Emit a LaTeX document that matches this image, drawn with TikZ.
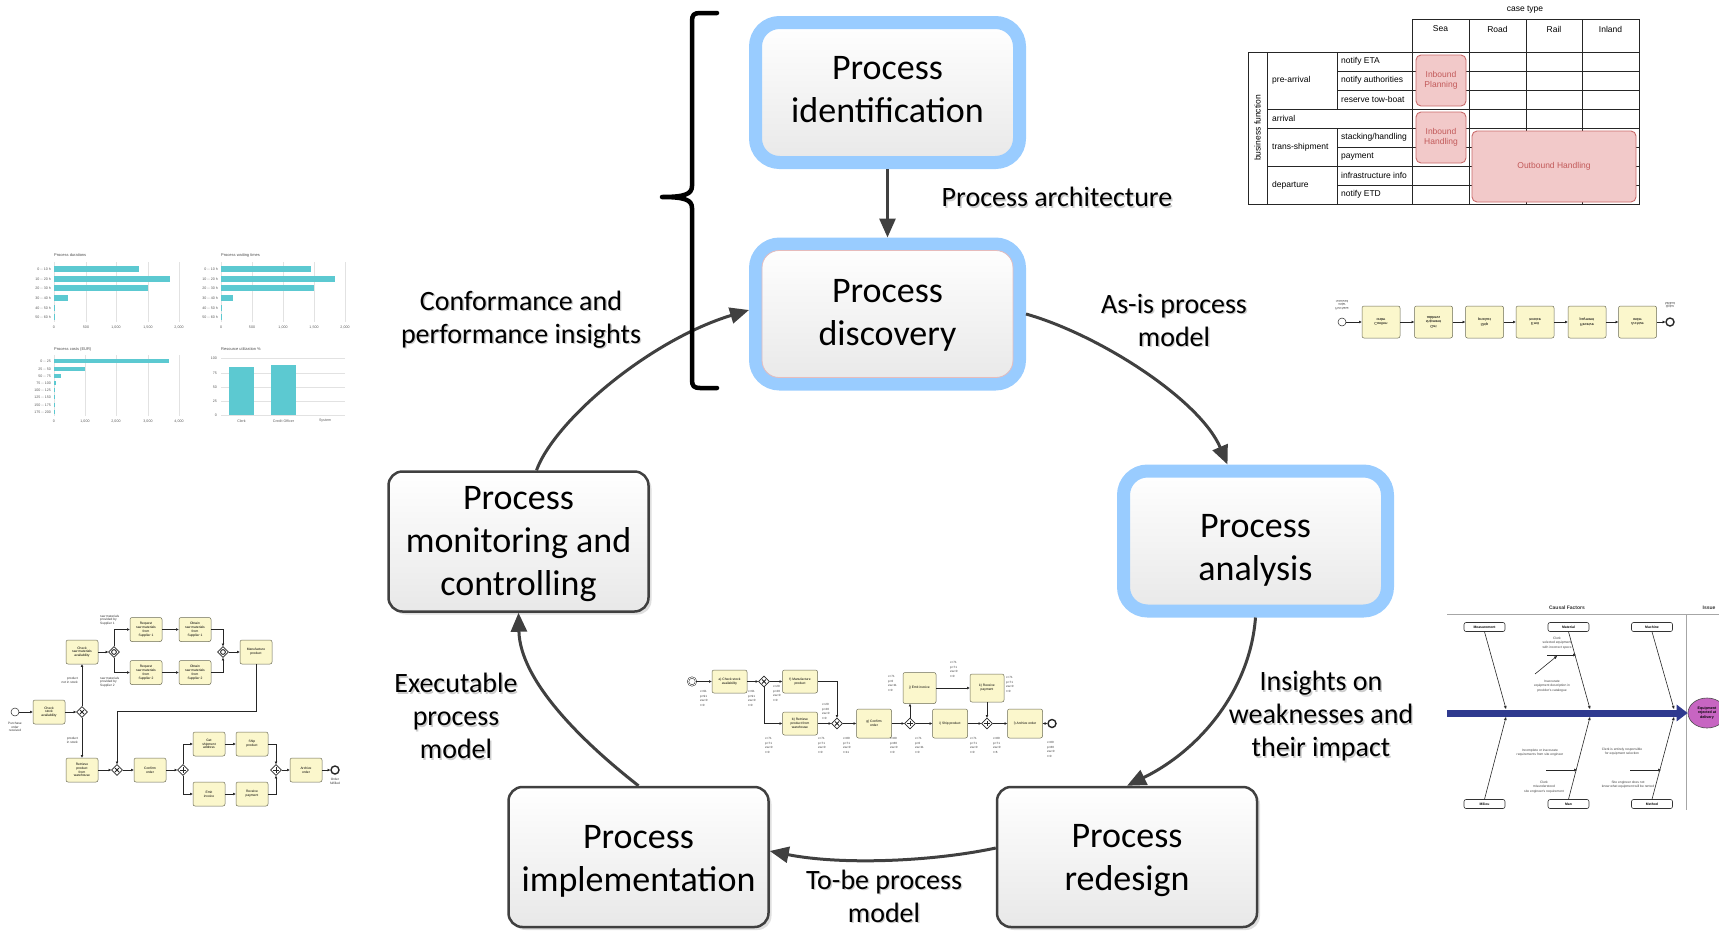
\documentclass[tikz,border=0pt]{standalone}
\usepackage{fontspec}
\setmainfont{Carlito}
\newfontfamily\smallsans{Liberation Sans}
\usetikzlibrary{arrows.meta,shapes.geometric,shadows,calc}

\definecolor{hlblue}{HTML}{99CCFF}
\definecolor{edgegray}{HTML}{404040}
\definecolor{taskfill}{HTML}{FBF7CC}
\definecolor{taskline}{HTML}{6B6B55}
\definecolor{barteal}{HTML}{5CC9D1}
\definecolor{gridgray}{HTML}{E2E2E2}
\definecolor{pinkfill}{HTML}{F2C9C9}
\definecolor{pinkline}{HTML}{C96A6A}
\definecolor{pinktext}{HTML}{C25A5A}
\definecolor{spineblue}{HTML}{2F3A8F}
\definecolor{issuefill}{HTML}{C765C2}

% text with a soft grey shadow behind it
\newcommand\shd[1]{\rlap{\hspace{1.4pt}\raisebox{-1.4pt}{\textcolor{black!20}{#1}}}#1}

\begin{document}
\begin{tikzpicture}[x=1pt,y=-1pt,
  phase/.style={draw=edgegray,line width=2.5pt,rounded corners=14pt,
    top color=white,bottom color=black!9,minimum width=260pt,minimum height=140pt,
    drop shadow={shadow xshift=3pt,shadow yshift=-3pt,opacity=0.25}},
  keyphase/.style={phase,draw=hlblue,line width=13pt,rounded corners=24pt,
    minimum width=264pt,minimum height=140pt},
  phasetext/.style={align=center,font=\fontsize{36}{43}\selectfont,inner sep=0pt},
  cycle/.style={draw=edgegray,line width=3pt,-{Triangle[length=19pt,width=16pt]}},
  note/.style={align=center,font=\fontsize{28}{33}\selectfont,inner sep=0pt},
  tbl/.style={font=\smallsans\fontsize{8.5}{10}\selectfont,inner sep=0pt},
  cluster/.style={draw=pinkline,fill=pinkfill,line width=0.9pt,rounded corners=5pt,
    text=pinktext,align=center,font=\smallsans\fontsize{8.5}{10.5}\selectfont},
  ctitle/.style={font=\smallsans\fontsize{4}{5}\selectfont,text=black!70,anchor=west,inner sep=0pt},
  clab/.style={font=\smallsans\fontsize{3.6}{4.5}\selectfont,text=black!65,inner sep=0pt},
  task/.style={draw=taskline,fill=taskfill,line width=0.5pt,rounded corners=2pt,
    minimum width=32pt,minimum height=24pt,inner sep=0.5pt,align=center,
    font=\smallsans\fontsize{3.3}{3.8}\selectfont},
  mtask/.style={task,minimum width=35pt,minimum height=23pt},
  ltask/.style={task,minimum width=38pt,minimum height=32pt,font=\smallsans\fontsize{3.8}{4.4}\selectfont},
  gw/.style={diamond,draw=black!85,fill=white,line width=0.6pt,minimum width=11pt,
    minimum height=11pt,inner sep=0pt},
  gwx/.style={gw,path picture={\draw[line width=1pt] (path picture bounding box.center)
    ++(-2,-2) -- ++(4,4) ++(-4,0) -- ++(4,-4);}},
  gwp/.style={gw,path picture={\draw[line width=1pt] (path picture bounding box.center)
    ++(-2.6,0) -- ++(5.2,0) ++(-2.6,-2.6) -- ++(0,5.2);}},
  gwo/.style={gw,path picture={\draw[line width=0.9pt] (path picture bounding box.center)
    circle[radius=2.4pt];}},
  startev/.style={circle,draw=black!85,fill=white,line width=0.5pt,minimum size=8pt,inner sep=0pt},
  endev/.style={startev,line width=1.4pt},
  bflow/.style={draw=black!85,line width=0.55pt,-{Triangle[length=2.6pt,width=2.4pt]}},
  tiny/.style={font=\smallsans\fontsize{3.2}{3.7}\selectfont,align=center,inner sep=0pt,text=black!80},
  ann/.style={font=\smallsans\fontsize{3}{4.8}\selectfont,align=left,inner sep=0pt,
    anchor=north west,text=black!80},
  fbox/.style={draw=black!80,fill=white,line width=0.6pt,rounded corners=2pt,
    minimum width=41pt,minimum height=9pt,inner sep=0pt,
    font=\smallsans\bfseries\fontsize{3.4}{4}\selectfont},
  ftxt/.style={font=\smallsans\fontsize{3.3}{4.2}\selectfont,align=center,inner sep=0pt,text=black!75},
  bone/.style={draw=black!85,line width=0.6pt,-{Triangle[length=3pt,width=2.6pt]}},
]
\useasboundingbox (0,0) rectangle (1719,930);

% ---------------- lifecycle phases ----------------
\node[keyphase] (ident) at (887.5,92.5) {};
\node[keyphase] (disc)  at (887.5,314)  {};
\node[keyphase] (ana)   at (1255.5,541) {};
\node[phase]    (red)   at (1127,857)   {};
\node[phase]    (impl)  at (638.5,857)  {};
\node[phase]    (mon)   at (518.5,541.5) {};
\draw[pinkline!45,line width=0.8pt,rounded corners=17pt]
  ($(disc.north west)+(13,13)$) rectangle ($(disc.south east)+(-13,-13)$);
\node[phasetext] (identT) at ($(ident)+(0,-3)$) {Process\\identification};
\node[phasetext] (discT)  at ($(disc)+(0,1)$)   {Process\\discovery};
\node[phasetext] (anaT)   at ($(ana)+(0,9)$)    {Process\\analysis};
\node[phasetext] (redT)   at ($(red)+(0,4)$)    {Process\\redesign};
\node[phasetext] (implT)  at ($(impl)+(0,4)$)   {Process\\implementation};
\node[phasetext] (monT)   at ($(mon)+(0,3)$)    {Process\\monitoring and\\controlling};

% ---------------- lifecycle arrows ----------------
\draw[cycle] (ident) -- (disc);
\draw[cycle] (disc.east) .. controls (1100,335) and (1200,400) .. ($(ana.north)+(-28,0)$);
\draw[cycle] (ana.south) .. controls (1250,690) and (1200,750) .. (red.north);
\draw[cycle] ($(red.west)+(0,-9)$) .. controls (930,862) and (840,865) .. ($(impl.east)+(0,-6)$);
\draw[cycle] (impl.north) .. controls (580,740) and (520,680) .. (mon.south);
\draw[cycle] ($(mon.north)+(18,0)$) .. controls (555,420) and (650,340) .. ($(disc.west)+(0,-4)$);

% ---------------- arrow labels ----------------
\node[note] (lArch) at (1057,198) {\shd{Process architecture}};
\node[note] (lAsis) at (1174,321) {\shd{As-is process}\\\shd{model}};
\node[note] (lIns)  at (1321,717) {\shd{Insights on}\\\shd{weaknesses and}\\\shd{their impact}};
\node[note] (lTobe) at (884,897)  {\shd{To-be process}\\\shd{model}};
\node[note] (lExec) at (456,717)  {\shd{Executable}\\\shd{process}\\\shd{model}};
\node[note] (lConf) at (521,320)  {\shd{Conformance and}\\\shd{performance insights}};

% ---------------- brace around identification and discovery ----------------
\draw[line width=4.5pt,line cap=round,line join=round]
  (717,13) -- (700,13) .. controls (694,13) and (692,15) .. (692,21) -- (692,186)
  .. controls (692,194) and (685,197) .. (662,197)
  .. controls (685,197) and (692,200) .. (692,208) -- (692,380)
  .. controls (692,386) and (694,388) .. (700,388) -- (717,388);

% ---------------- process architecture matrix ----------------
\begin{scope}[black!85,line width=0.8pt]
  \draw (1412,19) rectangle (1639,52);
  \foreach \x in {1469,1526,1582} \draw (\x,19) -- (\x,204);
  \draw (1248,52) rectangle (1639,204);
  \draw (1267,52) -- (1267,204);
  \draw (1337,52) -- (1337,109) (1337,128) -- (1337,204);
  \draw (1412,52) -- (1412,204);
  \foreach \y in {71,90,147,185} \draw (1337,\y) -- (1639,\y);
  \foreach \y in {109,128,166} \draw (1267,\y) -- (1639,\y);
\end{scope}
\node[tbl] (ctype) at (1525,10) {case type};
\node[tbl] (hSea) at (1440.5,29) {Sea};
\node[tbl] (hRoad) at (1497.5,29) {Road};
\node[tbl] (hRail) at (1554,29) {Rail};
\node[tbl] (hInl) at (1610.5,29) {Inland};
\node[tbl,rotate=90] (bfun) at (1257.5,128) {business function};
\node[tbl,anchor=west] (gPre) at (1272,80.5) {pre-arrival};
\node[tbl,anchor=west] (gArr) at (1272,118.5) {arrival};
\node[tbl,anchor=west] (gTra) at (1272,147) {trans-shipment};
\node[tbl,anchor=west] (gDep) at (1272,185) {departure};
\node[tbl,anchor=west] (aEta) at (1341,61.5) {notify ETA};
\node[tbl,anchor=west] (aAut) at (1341,80.5) {notify authorities};
\node[tbl,anchor=west] (aTow) at (1341,99.5) {reserve tow-boat};
\node[tbl,anchor=west] (aSta) at (1341,137.5) {stacking/handling};
\node[tbl,anchor=west] (aPay) at (1341,156.5) {payment};
\node[tbl,anchor=west] (aInf) at (1341,175.5) {infrastructure info};
\node[tbl,anchor=west] (aEtd) at (1341,194.5) {notify ETD};
\node[cluster,minimum width=50pt,minimum height=51pt] (inPlan) at (1441,80.5) {Inbound\\Planning};
\node[cluster,minimum width=50pt,minimum height=51pt] (inHand) at (1441,137.5) {Inbound\\Handling};
\node[cluster,minimum width=164pt,minimum height=71pt] (outHand) at (1554,166.5) {Outbound Handling};

% ---------------- performance charts ----------------
\node[ctitle] (c1t) at (54,255) {Process durations};
\foreach \gx/\lab [count=\i] in {54/0,86/500,116/{1,000},148/{1,500},179/{2,000}} {
  \draw[gridgray,line width=0.5pt] (\gx,262) -- (\gx,322);
  \node[clab] (c1x\i) at (\gx,327) {\lab};
}
\foreach \yy/\len/\lab [count=\i] in {269/139/0 -- 10 h,279/170/10 -- 20 h,288/148/20 -- 30 h,
    298/68/30 -- 40 h,308/55/40 -- 50 h,317/54.5/50 -- 60 h} {
  \fill[barteal] (54,\yy-2.6) rectangle (\len,\yy+2.6);
  \node[clab,anchor=east] (c1y\i) at (51,\yy) {\lab};
}
\node[ctitle] (c2t) at (221,255) {Process waiting times};
\foreach \gx/\lab [count=\i] in {221/0,252/500,283/{1,000},314/{1,500},345/{2,000}} {
  \draw[gridgray,line width=0.5pt] (\gx,262) -- (\gx,322);
  \node[clab] (c2x\i) at (\gx,327) {\lab};
}
\foreach \yy/\len/\lab [count=\i] in {269/311/0 -- 10 h,279/335/10 -- 20 h,288/314/20 -- 30 h,
    298/233/30 -- 40 h,308/222/40 -- 50 h,317/221.5/50 -- 60 h} {
  \fill[barteal] (221,\yy-2.6) rectangle (\len,\yy+2.6);
  \node[clab,anchor=east] (c2y\i) at (218,\yy) {\lab};
}
\node[ctitle] (c3t) at (54,349) {Process costs (EUR)};
\foreach \gx/\lab [count=\i] in {54/0,85/{1,000},116/{2,000},148/{3,000},179/{4,000}} {
  \draw[gridgray,line width=0.5pt] (\gx,355) -- (\gx,416);
  \node[clab] (c3x\i) at (\gx,421) {\lab};
}
\foreach \yy/\len/\lab [count=\i] in {361/169/0 -- 25,369/85/25 -- 50,376/61/50 -- 75,
    383/56/75 -- 100,390/54.5/100 -- 125,397/54.5/125 -- 150,405/54.5/150 -- 175,412/54.5/175 -- 200} {
  \fill[barteal] (54,\yy-2.2) rectangle (\len,\yy+2.2);
  \node[clab,anchor=east] (c3y\i) at (51,\yy) {\lab};
}
\node[ctitle] (c4t) at (221,349) {Resource utilization \%};
\foreach \gy/\lab [count=\i] in {358/100,373/75,387/50,401/25,415/0} {
  \draw[gridgray,line width=0.5pt] (221,\gy) -- (345,\gy);
  \node[clab,anchor=east] (c4y\i) at (217,\gy) {\lab};
}
\fill[barteal] (229,367) rectangle (254,415);
\fill[barteal] (271,365) rectangle (296,415);
\node[clab] (c4a) at (241.5,421) {Clerk};
\node[clab] (c4b) at (283.5,421) {Credit Officer};
\node[clab] (c4c) at (325,421) {System};

% ---------------- order-to-cash model (left) ----------------
\node[startev] (bs) at (15,712) {};
\node[tiny] (bsl) at (15,727) {Purchase\\order\\received};
\node[task] (bt1) at (49,712) {Check\\stock\\availability};
\node[gwx] (bg1) at (82,712) {};
\node[task] (bt2) at (82,652) {Check\\raw materials\\availability};
\node[gwo] (bg2) at (114,652) {};
\node[task] (bt3) at (146,629.5) {Request\\raw materials\\from\\Supplier 1};
\node[task] (bt4) at (195,629.5) {Obtain\\raw materials\\from\\Supplier 1};
\node[task] (bt5) at (146,672.5) {Request\\raw materials\\from\\Supplier 2};
\node[task] (bt6) at (195,672.5) {Obtain\\raw materials\\from\\Supplier 2};
\node[gwo] (bg3) at (223,652) {};
\node[task] (bt7) at (256,652) {Manufacture\\product};
\node[task] (bt8) at (82,770) {Retrieve\\product\\from\\warehouse};
\node[gwx] (bg4) at (117,770) {};
\node[task] (bt9) at (150,770) {Confirm\\order};
\node[gwp] (bg5) at (183,770) {};
\node[task] (bt10) at (209,744) {Get\\shipment\\address};
\node[task] (bt11) at (252,744) {Ship\\product};
\node[task] (bt12) at (209,794) {Emit\\invoice};
\node[task] (bt13) at (252,794) {Receive\\payment};
\node[gwp] (bg6) at (276,770) {};
\node[task] (bt14) at (306,770) {Archive\\order};
\node[endev] (be) at (335,770) {};
\node[tiny] (bel) at (335,781) {Order\\fulfilled};
\node[tiny,align=left,anchor=west] (bl1) at (100,620) {raw materials\\provided by\\Supplier 1};
\node[tiny,align=left,anchor=west] (bl2) at (100,682) {raw materials\\provided by\\Supplier 2};
\node[tiny,align=right,anchor=east] (bl3) at (78,680) {product\\not in stock};
\node[tiny,align=right,anchor=east] (bl4) at (78,740) {product\\in stock};
\coordinate (bk) at (117,711);
\draw[bflow] (bs) -- (bt1);
\draw[bflow] (bt1) -- (bg1);
\draw[bflow] (bg1) -- (bt2);
\draw[bflow] (bg1) -- (bt8);
\draw[bflow] (bt2) -- (bg2);
\draw[bflow] (bg2.north) |- (bt3);
\draw[bflow] (bg2.south) |- (bt5);
\draw[bflow] (bt3) -- (bt4);
\draw[bflow] (bt5) -- (bt6);
\draw[bflow] (bt4) -| (bg3.north);
\draw[bflow] (bt6) -| (bg3.south);
\draw[bflow] (bg3) -- (bt7);
\draw[bflow] (bt7.south) |- (bk) -- (bg4.north);
\draw[bflow] (bt8) -- (bg4);
\draw[bflow] (bg4) -- (bt9);
\draw[bflow] (bt9) -- (bg5);
\draw[bflow] (bg5.north) |- (bt10);
\draw[bflow] (bg5.south) |- (bt12);
\draw[bflow] (bt10) -- (bt11);
\draw[bflow] (bt12) -- (bt13);
\draw[bflow] (bt11) -| (bg6.north);
\draw[bflow] (bt13) -| (bg6.south);
\draw[bflow] (bg6) -- (bt14);
\draw[bflow] (bt14) -- (be);

% ---------------- annotated model (middle) ----------------
\node[startev,double,double distance=0.8pt] (ms) at (692,681.5) {};
\node[mtask] (ma) at (729.5,681.5) {a) Check stock\\availability};
\node[gwx] (mg1) at (764,681.5) {};
\node[mtask] (mf) at (800,681.5) {f) Manufacture\\product};
\node[mtask] (mb) at (800,723.5) {b) Retrieve\\product from\\warehouse};
\node[gwx] (mg2) at (837,723.5) {};
\node[mtask,minimum height=29pt] (mgc) at (874,723.5) {g) Confirm\\order};
\node[gwp] (mg3) at (910,723.5) {};
\node[mtask,minimum height=31pt,minimum width=33pt] (mj) at (919.5,688) {j) Emit invoice};
\node[mtask,minimum height=29pt] (mi) at (950,723.5) {i) Ship product};
\node[mtask,minimum height=28pt,minimum width=34pt] (mk) at (987,688) {k) Receive\\payment};
\node[gwp] (mg4) at (987,723.5) {};
\node[mtask,minimum height=29pt] (ml) at (1025,723.5) {l) Archive order};
\node[endev] (me) at (1052,723.5) {};
\draw[bflow] (ms) -- (ma);
\draw[bflow] (ma) -- (mg1);
\draw[bflow] (mg1) -- (mf);
\draw[bflow] (mg1.south) |- (mb);
\draw[bflow] (mf) -| (mg2);
\draw[bflow] (mb) -- (mg2);
\draw[bflow] (mg2) -- (mgc);
\draw[bflow] (mgc) -- (mg3);
\draw[bflow] (mg3.north) -- (mg3.north |- mj.south);
\draw[bflow] (mg3) -- (mi);
\draw[bflow] (mj) -- (mk);
\draw[bflow] (mk) -- (mg4);
\draw[bflow] (mi) -- (mg4);
\draw[bflow] (mg4) -- (ml);
\draw[bflow] (ml) -- (me);
\foreach \ax/\ay/\at [count=\i] in {
    700/690/{c=91\\p=91\\ew=0\\r=0},
    748/690/{c=91\\p=91\\ew=0\\r=0},
    773/685/{c=20\\p=20\\ew=0\\r=0},
    822/703/{c=20\\p=20\\ew=0\\r=0},
    765/737/{c=71\\p=71\\ew=0\\r=0},
    818/737/{c=71\\p=71\\ew=0\\r=0},
    843/737/{c=80\\p=71\\ew=0\\r=11},
    890/737/{c=80\\p=80\\ew=0\\r=0},
    888/675/{c=71\\p=0\\ew=11\\r=0},
    915/737/{c=71\\p=0\\ew=11\\r=0},
    950/661/{c=71\\p=71\\ew=0\\r=0},
    1006/676/{c=71\\p=71\\ew=0\\r=0},
    970/737/{c=71\\p=71\\ew=0\\r=0},
    993/737/{c=80\\p=71\\ew=0\\r=6},
    1047/741/{c=80\\p=80\\ew=0\\r=0}} {
  \node[ann] (an\i) at (\ax,\ay) {\at};
}

% ---------------- linear model, mirrored (right) ----------------
\begin{scope}[shift={(0,322)},yscale=-1,transform shape]
  \node[startev] (ls) at (1342,0) {};
  \node[ltask] (l1) at (1381,0) {Confirm\\order};
  \node[ltask] (l2) at (1433.5,0) {Get\\shipment\\address};
  \node[ltask] (l3) at (1484.5,0) {Ship\\product};
  \node[ltask] (l4) at (1535,0) {Emit\\invoice};
  \node[ltask] (l5) at (1587,0) {Receive\\payment};
  \node[ltask] (l6) at (1637.5,0) {Archive\\order};
  \node[endev] (le) at (1670,0) {};
  \node[tiny] (lsl) at (1342,17) {Purchase\\order\\received};
  \node[tiny] (lel) at (1670,17) {Order\\fulfilled};
  \draw[bflow] (ls) -- (l1);
  \draw[bflow] (l1) -- (l2);
  \draw[bflow] (l2) -- (l3);
  \draw[bflow] (l3) -- (l4);
  \draw[bflow] (l4) -- (l5);
  \draw[bflow] (l5) -- (l6);
  \draw[bflow] (l6) -- (le);
\end{scope}

% ---------------- cause-effect diagram (right) ----------------
\draw[black!35,line width=0.7pt] (1447,614) -- (1719,614);
\draw[black!35,line width=0.7pt] (1686,614) -- (1686,810);
\node[font=\smallsans\bfseries\fontsize{5}{6}\selectfont,text=black!80] (cfac) at (1567,608) {Causal Factors};
\node[font=\smallsans\bfseries\fontsize{5}{6}\selectfont,text=black!80] (ciss) at (1709,608) {Issue};
\node[fbox] (meas) at (1484.5,627) {Measurement};
\node[fbox] (matl) at (1568.5,627) {Material};
\node[fbox] (mach) at (1652,627) {Machine};
\node[fbox] (mili) at (1484.5,804) {Milieu};
\node[fbox] (man)  at (1568.5,804) {Man};
\node[fbox] (meth) at (1652,804) {Method};
\node[ellipse,draw=black!70,fill=issuefill,line width=0.6pt,minimum width=38pt,minimum height=30pt,
  inner sep=0pt,align=center,font=\smallsans\bfseries\fontsize{3.6}{4.3}\selectfont] (issue) at (1707,713)
  {Equipment\\rejected at\\delivery};
\coordinate (spst) at (1447,713);
\draw[spineblue,line width=7pt,-{Triangle[length=11pt,width=16pt]}] (spst) -- (issue.west);
\coordinate (sp1) at (1506,709); \coordinate (sp2) at (1590,709); \coordinate (sp3) at (1674,709);
\coordinate (sp4) at (1506,717); \coordinate (sp5) at (1590,717); \coordinate (sp6) at (1674,717);
\draw[bone] (meas.south) -- (sp1);
\draw[bone] (matl.south) -- (sp2);
\draw[bone] (mach.south) -- (sp3);
\draw[bone] (mili.north) -- (sp4);
\draw[bone] (man.north) -- (sp5);
\draw[bone] (meth.north) -- (sp6);
\node[ftxt] (f1) at (1557,643) {Clerk\\selected equipment\\with incorrect specs};
\node[ftxt] (f2) at (1552,686) {Inaccurate\\equipment description in\\provider's catalogue};
\node[ftxt] (f3) at (1540,753) {Incomplete or inaccurate\\requirements from site engineer};
\node[ftxt] (f4) at (1544,787) {Clerk\\misunderstood\\site engineer's requirement};
\node[ftxt] (f5) at (1622,752) {Clerk is entirely responsible\\for equipment selection};
\node[ftxt] (f6) at (1628,785) {Site engineer does not\\know what equipment will be rented};
\coordinate (q1a) at (1547,655); \coordinate (q1b) at (1576,655);
\coordinate (q2a) at (1535,674); \coordinate (q2b) at (1557,656);
\coordinate (q3a) at (1546,770); \coordinate (q3b) at (1577,770);
\coordinate (q4a) at (1630,770); \coordinate (q4b) at (1661,770);
\draw[bone] (q1a) -- (q1b);
\draw[bone] (q2a) -- (q2b);
\draw[bone] (q3a) -- (q3b);
\draw[bone] (q4a) -- (q4b);
\end{tikzpicture}
\end{document}
